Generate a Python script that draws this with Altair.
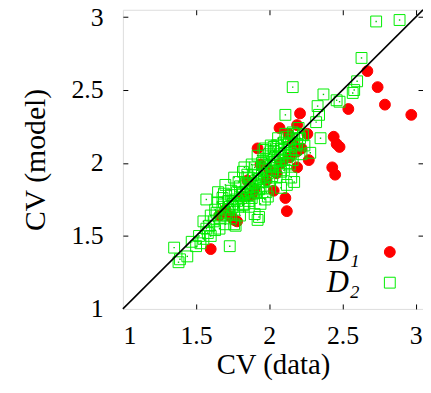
import altair as alt
import pandas as pd

series_names = ["D₁", "D₂"]
tick_values = [1, 1.5, 2, 2.5, 3]
inner_ticks = [1.5, 2, 2.5, 3]
axis_domain = [1.0, 3.05]
diag_vals = [1.0, 3.05]

d1_x = [2.67, 2.74, 2.79, 2.97, 2.54, 2.44, 2.46, 2.48, 2.43, 2.45, 2.21, 2.19, 2.07, 2.13,
        1.92, 2.27, 2.11, 2.12, 1.60, 1.76, 1.74, 1.78, 1.94, 1.85, 2.03, 2.19, 2.14, 2.26,
        2.19, 2.08, 2.05, 1.98, 1.90, 1.82, 1.70, 1.66, 2.16, 2.22, 2.00, 1.88]
d1_y = [2.63, 2.52, 2.40, 2.33, 2.37, 2.18, 2.13, 2.11, 1.97, 1.92, 2.34, 2.26, 2.24, 2.20,
        2.10, 2.02, 1.76, 1.67, 1.41, 1.61, 1.63, 1.60, 1.99, 1.88, 1.81, 2.08, 2.04, 2.20,
        1.97, 2.00, 1.93, 1.88, 1.82, 1.77, 1.68, 1.64, 2.14, 2.10, 1.95, 1.78]

d2_x = [2.73, 2.89, 2.63, 2.60, 2.58, 2.57, 2.16, 2.37, 2.46, 2.48, 2.33, 2.34, 2.32, 2.11,
        2.35, 2.28, 1.73, 1.35, 1.39, 1.38, 1.44, 1.50, 1.53, 1.58, 1.63, 1.57, 1.92, 1.93,
        1.90, 1.83, 2.01, 2.03, 2.20, 2.23, 2.17, 2.15, 1.99, 1.97, 1.77, 1.59, 1.65, 1.69,
        1.75, 1.76, 1.85, 1.96, 2.14,
        1.62, 1.64, 1.66, 1.68, 1.70, 1.72, 1.72, 1.74, 1.75, 1.77, 1.78, 1.79, 1.80, 1.81,
        1.82, 1.83, 1.84, 1.85, 1.86, 1.87, 1.88, 1.88, 1.89, 1.90, 1.91, 1.92, 1.93, 1.94,
        1.95, 1.95, 1.96, 1.97, 1.98, 1.99, 2.00, 2.00, 2.01, 2.02, 2.03, 2.04, 2.05, 2.05,
        2.06, 2.07, 2.08, 2.09, 2.10, 2.10, 2.11, 2.12, 2.13, 2.14, 2.15, 2.16, 2.17, 2.18,
        2.19, 2.21, 2.22, 2.12, 2.08, 1.98, 1.94, 1.86, 1.80, 1.74, 1.70, 1.66, 1.60, 1.55,
        1.65, 1.70, 1.76, 1.82, 1.88, 1.92, 1.97, 2.06, 2.20, 2.24, 1.60, 1.57, 1.52, 1.47,
        1.55,
        1.63, 1.67, 1.69, 1.71, 1.73, 1.76, 1.78, 1.80, 1.82, 1.84, 1.86, 1.87, 1.89, 1.91,
        1.93, 1.95, 1.96, 1.98, 2.00, 2.02, 2.03, 2.05, 2.07, 2.08, 2.10, 2.12, 2.13, 2.15,
        2.17, 2.19, 1.68, 1.74, 1.79, 1.85, 1.90, 1.96, 2.01, 2.06, 2.11, 2.16]
d2_y = [2.97, 2.98, 2.72, 2.56, 2.50, 2.48, 2.52, 2.47, 2.43, 2.42, 2.39, 2.33, 2.28, 2.33,
        2.17, 2.07, 1.43, 1.42, 1.34, 1.32, 1.36, 1.43, 1.45, 1.52, 1.54, 1.75, 1.61, 1.63,
        1.65, 1.97, 2.12, 2.11, 2.20, 2.19, 1.87, 1.90, 1.77, 1.75, 1.57, 1.57, 1.73, 1.79,
        1.70, 1.58, 1.83, 2.09, 1.99,
        1.60, 1.66, 1.62, 1.70, 1.66, 1.74, 1.68, 1.78, 1.72, 1.75, 1.80, 1.70, 1.84, 1.76,
        1.79, 1.72, 1.86, 1.78, 1.90, 1.81, 1.84, 1.76, 1.92, 1.86, 1.80, 1.95, 1.89, 1.84,
        2.00, 1.92, 1.87, 1.97, 2.03, 1.93, 1.88, 2.06, 1.98, 1.95, 2.08, 2.01, 1.90, 2.12,
        2.04, 1.97, 2.10, 2.02, 2.14, 1.95, 2.07, 2.18, 2.05, 2.11, 2.16, 2.02, 2.20, 2.09,
        2.13, 2.17, 2.06, 1.85, 1.83, 1.80, 1.72, 1.70, 1.64, 1.62, 1.58, 1.55, 1.50, 1.48,
        1.80, 1.85, 1.90, 1.94, 1.99, 2.05, 2.10, 2.17, 2.24, 2.12, 1.64, 1.55, 1.50, 1.46,
        1.60,
        1.68, 1.64, 1.73, 1.64, 1.70, 1.68, 1.74, 1.78, 1.71, 1.80, 1.74, 1.86, 1.79, 1.88,
        1.82, 1.96, 1.83, 1.90, 1.99, 1.91, 2.02, 1.99, 2.06, 1.94, 2.09, 2.00, 2.13, 2.07,
        2.12, 2.17, 1.76, 1.81, 1.87, 1.92, 1.97, 2.01, 2.08, 2.12, 2.20, 2.21]

df = pd.DataFrame({
    "x": d1_x + d2_x,
    "y": d1_y + d2_y,
    "series": [series_names[0]] * len(d1_x) + [series_names[1]] * len(d2_x),
})
df["order"] = range(len(df))
d2_df = df[df["series"] == series_names[1]]
diag_df = pd.DataFrame({"x": diag_vals, "y": diag_vals})

FONT = "Liberation Serif"
xs = alt.Scale(domain=axis_domain, nice=False, zero=False)
ys = alt.Scale(domain=axis_domain, nice=False, zero=False)

legend = alt.Legend(
    title=None, orient="none", legendX=254, legendY=229, padding=0,
    labelFont=FONT, labelFontSize=31, labelFontStyle="italic", labelColor="black",
    labelAlign="right", labelOffset=alt.ExprRef(expr="-46"),
    symbolSize=120, symbolStrokeWidth=1,
    rowPadding=alt.ExprRef(expr="-2"), labelLimit=200,
)

pts = alt.Chart(df).mark_point(size=120, strokeWidth=1, opacity=1).encode(
    x=alt.X("x:Q", scale=xs, axis=alt.Axis(
        orient="bottom", title="CV (data)", values=tick_values, format="~g",
        ticks=False, domain=False, grid=False, labelPadding=14,
        labelFont=FONT, labelFontSize=26, labelColor="black",
        titleFont=FONT, titleFontSize=29, titleFontWeight="normal", titleColor="black",
        titlePadding=2)),
    y=alt.Y("y:Q", scale=ys, axis=alt.Axis(
        orient="left", title="CV (model)", values=tick_values, format="~g",
        ticks=False, domain=False, grid=False, labelPadding=20,
        labelFont=FONT, labelFontSize=26, labelColor="black",
        titleFont=FONT, titleFontSize=30, titleFontWeight="normal", titleColor="black",
        titlePadding=21)),
    shape=alt.Shape("series:N", scale=alt.Scale(domain=series_names, range=["circle", "square"]), legend=legend),
    fill=alt.Fill("series:N", scale=alt.Scale(domain=series_names, range=["#ff0000", "transparent"]), legend=legend),
    stroke=alt.Stroke("series:N", scale=alt.Scale(domain=series_names, range=["#ff0000", "#00ee00"]), legend=legend),
    order="order:Q",
)

tick_axis = dict(values=inner_ticks, labels=False, title=None, domain=False, grid=False,
                 ticks=True, tickSize=5, tickColor="black", tickWidth=1, offset=-5)

diag = alt.Chart(diag_df).mark_line(color="black", strokeWidth=1.6).encode(
    x=alt.X("x:Q", scale=xs, axis=alt.Axis(orient="bottom", **tick_axis)),
    y=alt.Y("y:Q", scale=ys, axis=alt.Axis(orient="left", **tick_axis)),
)

dots = alt.Chart(d2_df).mark_square(size=2, color="#00cc00", opacity=1).encode(
    x=alt.X("x:Q", scale=xs, axis=alt.Axis(orient="top", **tick_axis)),
    y=alt.Y("y:Q", scale=ys, axis=alt.Axis(orient="right", **tick_axis)),
)

chart = alt.layer(pts, diag, dots).resolve_axis(x="independent", y="independent").properties(
    width=303, height=302,
    autosize="none",
    padding={"left": 116, "top": 0, "right": 0, "bottom": 75},
).configure_view(stroke="black", strokeWidth=1.2).configure(background="white")

chart.save("out.html", embed_options={"renderer": "svg", "actions": False})
